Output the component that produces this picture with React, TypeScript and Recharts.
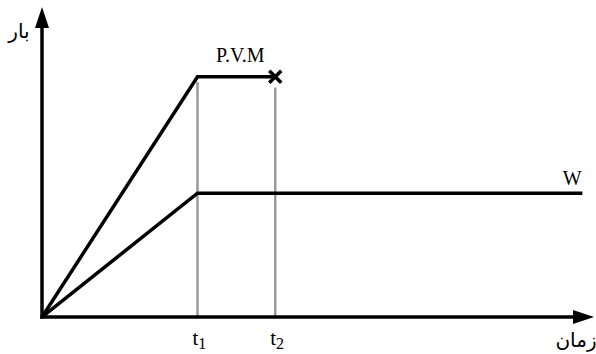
import { LineChart, Line, XAxis, YAxis, ReferenceLine, ReferenceDot } from 'recharts';

// time axis (arbitrary units), t1 and t2 marked
const tickTimes = [2, 3];
const tickNames = ['1', '2'];

const pvmPoints = [
  { t: 0, v: 0 },
  { t: 2, v: 2 },
  { t: 3, v: 2 },
];

const wPoints = [
  { t: 0, v: 0 },
  { t: 2, v: 1.03 },
  { t: 6.95, v: 1.03 },
];

const xMax = 7.1;
const yMax = 2.58;
const guideTops = [1.955, 1.91];

const serif = 'Liberation Serif';
const arabic = 'DejaVu Sans';

function ArrowLine(props: any) {
  const { x1, y1, x2, y2 } = props;
  const dx = x2 - x1;
  const dy = y2 - y1;
  const len = Math.sqrt(dx * dx + dy * dy);
  const ux = dx / len;
  const uy = dy / len;
  const head = 21;
  const half = 7;
  const bx = x2 - ux * head;
  const by = y2 - uy * head;
  const pts = [
    `${x2},${y2}`,
    `${bx - uy * half},${by + ux * half}`,
    `${bx + uy * half},${by - ux * half}`,
  ].join(' ');
  return (
    <g>
      <line x1={x1 - ux * 1.75} y1={y1 - uy * 1.75} x2={bx + ux * 2} y2={by + uy * 2} stroke="#000" strokeWidth={3.5} />
      <polygon points={pts} fill="#000" />
    </g>
  );
}

function TimeTick(props: any) {
  const { x, y, payload } = props;
  const i = tickTimes.indexOf(payload.value);
  return (
    <text x={x - 5} y={y + 20} style={{ fontFamily: serif, fontSize: 21 }} fill="#000">
      t
      <tspan style={{ fontSize: 16 }} dy={4}>{tickNames[i]}</tspan>
    </text>
  );
}

function CrossDot(props: any) {
  const { cx, cy, index } = props;
  if (index !== pvmPoints.length - 1) return <g key={`d${index}`} />;
  const s = 6;
  return (
    <g key={`d${index}`}>
      <line x1={cx - s} y1={cy - s} x2={cx + s} y2={cy + s} stroke="#000" strokeWidth={3.5} />
      <line x1={cx - s} y1={cy + s} x2={cx + s} y2={cy - s} stroke="#000" strokeWidth={3.5} />
    </g>
  );
}

function LineLabel(props: any) {
  const { viewBox, value, dy } = props;
  return (
    <text x={viewBox.x} y={viewBox.y + dy} textAnchor="middle" style={{ fontFamily: serif, fontSize: 20 }} fill="#000">
      {value}
    </text>
  );
}

export default function App() {
  return (
    <div style={{ width: 596, height: 354, background: '#fff' }}>
      <style>{'body{margin:0}'}</style>
      <LineChart width={596} height={354} margin={{ top: 7, right: 2, left: 0, bottom: 0 }}>
        <XAxis
          type="number"
          dataKey="t"
          domain={[0, xMax]}
          allowDataOverflow
          ticks={tickTimes}
          tick={<TimeTick />}
          tickLine={false}
          axisLine={false}
          height={37}
          label={{
            content: (p: any) => (
              <text x={p.viewBox.x + p.viewBox.width - 18} y={p.viewBox.y + 30} style={{ fontFamily: arabic, fontSize: 20 }} textAnchor="middle" fill="#000">
                زمان
              </text>
            ),
          }}
        />
        <YAxis
          type="number"
          dataKey="v"
          domain={[0, yMax]}
          allowDataOverflow
          tick={false}
          tickLine={false}
          axisLine={false}
          width={42}
          label={{
            content: (p: any) => (
              <text x={p.viewBox.x + 19} y={p.viewBox.y + 31} style={{ fontFamily: arabic, fontSize: 20 }} textAnchor="middle" fill="#000">
                بار
              </text>
            ),
          }}
        />
        {tickTimes.map((t, i) => (
          <ReferenceLine
            key={t}
            segment={[{ x: t, y: 0 }, { x: t, y: guideTops[i] }]}
            stroke="#9a9a9a"
            strokeWidth={2.5}
            ifOverflow="visible"
          />
        ))}
        <Line
          data={wPoints}
          dataKey="v"
          type="linear"
          stroke="#000"
          strokeWidth={3.5}
          dot={false}
          isAnimationActive={false}
        />
        <Line
          data={pvmPoints}
          dataKey="v"
          type="linear"
          stroke="#000"
          strokeWidth={3.5}
          dot={<CrossDot />}
          activeDot={false}
          isAnimationActive={false}
        />
        <ReferenceLine segment={[{ x: 0, y: 0 }, { x: xMax, y: 0 }]} shape={<ArrowLine />} ifOverflow="visible" />
        <ReferenceLine segment={[{ x: 0, y: 0 }, { x: 0, y: yMax }]} shape={<ArrowLine />} ifOverflow="visible" />
        <ReferenceDot
          x={2.55}
          y={2}
          r={0}
          fill="none"
          stroke="none"
          ifOverflow="visible"
          label={{ value: 'P.V.M', content: (p: any) => <LineLabel {...p} value="P.V.M" dy={-15} /> }}
        />
        <ReferenceDot
          x={6.82}
          y={1.03}
          r={0}
          fill="none"
          stroke="none"
          ifOverflow="visible"
          label={{ value: 'W', content: (p: any) => <LineLabel {...p} value="W" dy={-8} /> }}
        />
      </LineChart>
    </div>
  );
}
